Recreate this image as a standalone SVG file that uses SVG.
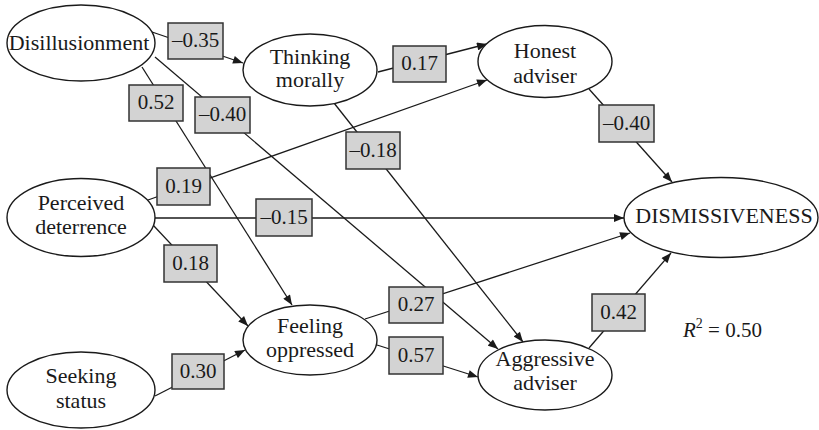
<svg xmlns="http://www.w3.org/2000/svg" width="819" height="430" viewBox="0 0 819 430">
  <style>
    text { font-family: 'Liberation Serif', 'Times New Roman', Times, Tinos, 'Noto Serif', 'DejaVu Serif', serif; }
    .node ellipse { fill: #ffffff; stroke: #1a1a1a; stroke-width: 1.4; }
    .node text { font-size: 22px; fill: #1a1a1a; text-anchor: middle; }
    .edge { fill: none; stroke: #1a1a1a; stroke-width: 1.3; marker-end: url(#arrow); }
    .coef rect { fill: #d3d3d3; stroke: #333333; stroke-width: 1.5; }
    .coef text { font-size: 21px; fill: #1a1a1a; text-anchor: middle; }
    .note { font-size: 21px; fill: #1a1a1a; }
  </style>
  <defs>
    <marker id="arrow" viewBox="0 0 10 8" refX="10" refY="4" markerWidth="11" markerHeight="8" markerUnits="userSpaceOnUse" orient="auto">
      <path d="M0,0 L10,4 L0,8 Z" fill="#1a1a1a"/>
    </marker>
  </defs>

  <!-- paths -->
  <g id="connectors">
    <path class="edge" d="M152,32 L243,63"/>
    <path class="edge" d="M142,67 L292,305"/>
    <path class="edge" d="M155,57 L498,349"/>
    <path class="edge" d="M378,72 L487,44"/>
    <path class="edge" d="M334,103 L523,342"/>
    <path class="edge" d="M148,200 L487,80"/>
    <path class="edge" d="M155,218 L624,218"/>
    <path class="edge" d="M153,225 L248,326"/>
    <path class="edge" d="M155,396 L245,350"/>
    <path class="edge" d="M365,319 L630,233"/>
    <path class="edge" d="M377,345 L478,377"/>
    <path class="edge" d="M589,89 L672,182"/>
    <path class="edge" d="M589,348 L671,253"/>
  </g>

  <!-- path coefficients -->
  <g id="coefficients" class="coef">
    <rect x="168" y="23" width="55" height="36"/><text x="195.5" y="47">–0.35</text>
    <rect x="129" y="85" width="54" height="36"/><text x="156" y="109">0.52</text>
    <rect x="195" y="97" width="55" height="36"/><text x="222.5" y="121">–0.40</text>
    <rect x="393" y="46" width="53" height="36"/><text x="419.5" y="70">0.17</text>
    <rect x="346" y="132" width="54" height="37"/><text x="373" y="157">–0.18</text>
    <rect x="599" y="105" width="55" height="37"/><text x="626.5" y="130">–0.40</text>
    <rect x="157" y="168" width="53" height="37"/><text x="183.5" y="193">0.19</text>
    <rect x="256" y="199" width="56" height="37"/><text x="284" y="224">–0.15</text>
    <rect x="164" y="245" width="53" height="37"/><text x="190.5" y="270">0.18</text>
    <rect x="172" y="354" width="52" height="35"/><text x="198" y="378">0.30</text>
    <rect x="389" y="287" width="54" height="36"/><text x="416" y="311">0.27</text>
    <rect x="389" y="337" width="54" height="37"/><text x="416" y="362">0.57</text>
    <rect x="592" y="294" width="53" height="37"/><text x="618.5" y="319">0.42</text>
  </g>

  <!-- variables -->
  <g id="disillusionment" class="node">
    <ellipse cx="81" cy="43" rx="74" ry="38"/>
    <text x="79" y="50">Disillusionment</text>
  </g>
  <g id="thinking-morally" class="node">
    <ellipse cx="310" cy="70" rx="67" ry="36"/>
    <text x="310" y="64">Thinking</text>
    <text x="310" y="87">morally</text>
  </g>
  <g id="honest-adviser" class="node">
    <ellipse cx="545" cy="61.5" rx="67" ry="36"/>
    <text x="545" y="58">Honest</text>
    <text x="545" y="83">adviser</text>
  </g>
  <g id="perceived-deterrence" class="node">
    <ellipse cx="81" cy="217.5" rx="74" ry="39"/>
    <text x="81" y="210">Perceived</text>
    <text x="81" y="234">deterrence</text>
  </g>
  <g id="dismissiveness" class="node">
    <ellipse cx="721" cy="217.5" rx="97" ry="40"/>
    <text x="724" y="223">DISMISSIVENESS</text>
  </g>
  <g id="feeling-oppressed" class="node">
    <ellipse cx="310" cy="340" rx="67" ry="35"/>
    <text x="310" y="333">Feeling</text>
    <text x="310" y="357">oppressed</text>
  </g>
  <g id="seeking-status" class="node">
    <ellipse cx="81" cy="390" rx="74" ry="38"/>
    <text x="81" y="383">Seeking</text>
    <text x="81" y="408">status</text>
  </g>
  <g id="aggressive-adviser" class="node">
    <ellipse cx="545" cy="375" rx="67" ry="35"/>
    <text x="545" y="366">Aggressive</text>
    <text x="545" y="390">adviser</text>
  </g>

  <text class="note" x="683" y="337"><tspan font-style="italic">R</tspan><tspan font-size="14" dy="-9">2</tspan><tspan dy="9"> = 0.50</tspan></text>
</svg>
